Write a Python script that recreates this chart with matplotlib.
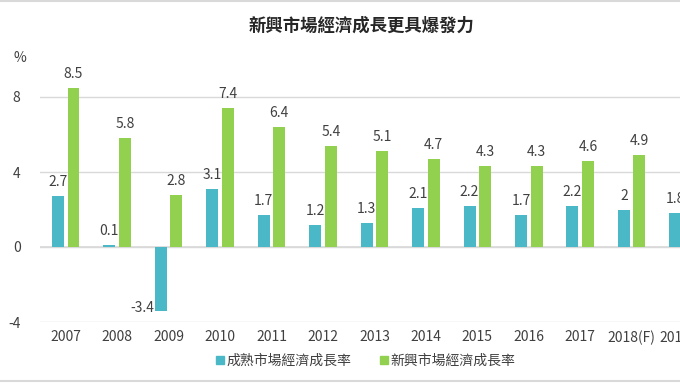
import numpy as np
import matplotlib
matplotlib.use("Agg")
import matplotlib.pyplot as plt
from matplotlib.lines import Line2D

plt.rcParams['font.family'] = ['Noto Sans CJK TC', 'DejaVu Sans']

years = ["2007", "2008", "2009", "2010", "2011", "2012", "2013", "2014",
         "2015", "2016", "2017", "2018(F)", "2019(F)"]
mature = [2.7, 0.1, -3.4, 3.1, 1.7, 1.2, 1.3, 2.1, 2.2, 1.7, 2.2, 2.0, 1.8]
emerging = [8.5, 5.8, 2.8, 7.4, 6.4, 5.4, 5.1, 4.7, 4.3, 4.3, 4.6, 4.9, np.nan]
mature_labels = ["2.7", "0.1", "-3.4", "3.1", "1.7", "1.2", "1.3", "2.1",
                 "2.2", "1.7", "2.2", "2", "1.8"]
emerging_labels = ["8.5", "5.8", "2.8", "7.4", "6.4", "5.4", "5.1", "4.7",
                   "4.3", "4.3", "4.6", "4.9", ""]
yticks = [-4, 0, 4, 8]

title = "新興市場經濟成長更具爆發力"
name_mature = "成熟市場經濟成長率"
name_emerging = "新興市場經濟成長率"

c_blue = "#4BB8C7"
c_green = "#92D050"
c_text = "#404040"
c_grid = "#D9D9D9"

W, H = 680, 383
fig = plt.figure(figsize=(W / 100, H / 100), dpi=100)

ncat = len(years)
px_per_cat = 51.45
ax_left = 40
ax_w = px_per_cat * ncat
ax_bottom = H - 322
ax_top = H - 59.5
ax = fig.add_axes([ax_left / W, ax_bottom / H, ax_w / W, (ax_top - ax_bottom) / H])

x = np.arange(ncat)
bw = 0.233
off = 0.151
ax.bar(x - off, mature, bw, color=c_blue, zorder=3)
ax.bar(x + off, emerging, bw, color=c_green, zorder=3)

ax.set_xlim(-0.5, ncat - 0.5)
ax.set_ylim(-4, 10)
ax.set_yticks(yticks)
ax.set_yticklabels([str(t) for t in yticks])
ax.set_xticks(x)
ax.set_xticklabels(years)
ax.tick_params(axis='both', length=0, labelsize=10, colors=c_text)
ax.tick_params(axis='y', pad=14)
ax.tick_params(axis='x', pad=6)
for s in ax.spines.values():
    s.set_visible(False)
ax.grid(axis='y', color=c_grid, linewidth=1, zorder=0)
ax.set_axisbelow(True)
ax.axhline(0, color=c_grid, linewidth=1.2, zorder=2)

for i, (v, lab) in enumerate(zip(mature, mature_labels)):
    if v >= 0:
        ax.annotate(lab, (x[i] - off, v), xytext=(0, 5), textcoords='offset points',
                    ha='center', va='bottom', fontsize=10, color=c_text)
    else:
        ax.annotate(lab, (x[i] - off, v), xytext=(-13, 2), textcoords='offset points',
                    ha='center', va='center', fontsize=10, color=c_text)
for i, (v, lab) in enumerate(zip(emerging, emerging_labels)):
    if lab:
        ax.annotate(lab, (x[i] + off, v), xytext=(0, 5), textcoords='offset points',
                    ha='center', va='bottom', fontsize=10, color=c_text)

fig.text(20 / W, 1 - 58 / H, "%", ha='center', va='center', fontsize=10, color=c_text)
fig.text(362 / W, 1 - 26 / H, title, ha='center', va='center', fontsize=12.5,
         fontweight='bold', color="#262626")

handles = [Line2D([], [], marker='s', linestyle='none', markersize=6, color=c_blue),
           Line2D([], [], marker='s', linestyle='none', markersize=6, color=c_green)]
fig.legend(handles, [name_mature, name_emerging], loc='center',
           bbox_to_anchor=(365 / W, 1 - 361 / H), ncol=2, frameon=False,
           fontsize=10, labelcolor=c_text, handletextpad=0.1, columnspacing=1.9,
           handlelength=0.8)

# chart border lines
fig.add_artist(Line2D([0, 1], [1 - 0.5 / H, 1 - 0.5 / H], color=c_grid, linewidth=1.5))
fig.add_artist(Line2D([0, 1], [2.5 / H, 2.5 / H], color=c_grid, linewidth=1.5))

fig.savefig("out.png", dpi=100)
